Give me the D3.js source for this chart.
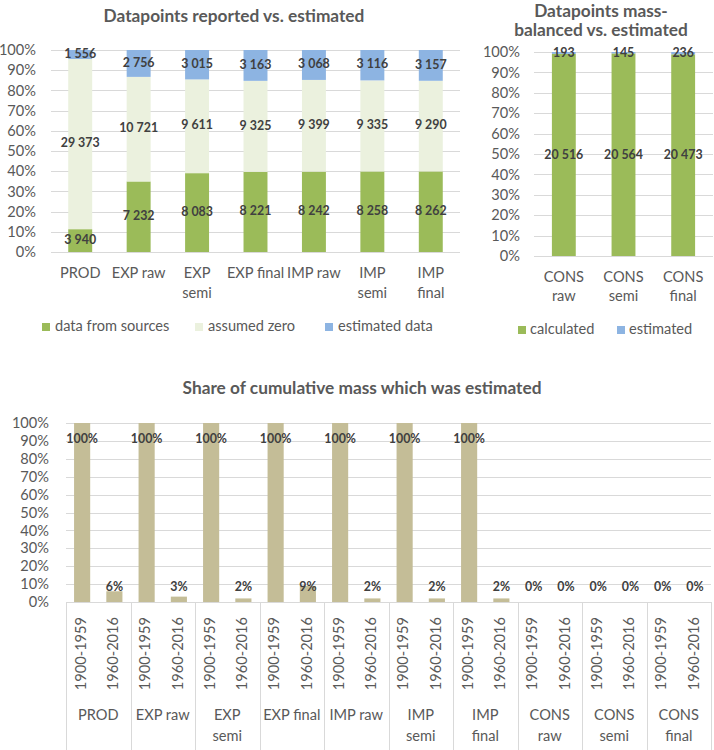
<!DOCTYPE html>
<html>
<head>
<meta charset="utf-8">
<script src="https://cdn.jsdelivr.net/npm/d3@7"></script>
<style>
  html, body { margin: 0; padding: 0; background: #ffffff; }
  svg { display: block; font-family: Lato, "Open Sans", sans-serif; }
</style>
</head>
<body>
<svg id="chart" width="714" height="750"></svg>
<script>
// ---------- DATA ----------
const categoriesTop = ["PROD", "EXP raw", "EXP semi", "EXP final", "IMP raw", "IMP semi", "IMP final"];
const wrapTop = ["EXP semi", "IMP semi", "IMP final"];
const dataFromSources = [3940, 7232, 8083, 8221, 8242, 8258, 8262];
const assumedZero = [29373, 10721, 9611, 9325, 9399, 9335, 9290];
const estimatedData = [1556, 2756, 3015, 3163, 3068, 3116, 3157];
const seriesTop = ["data from sources", "assumed zero", "estimated data"];

const categoriesCons = ["CONS raw", "CONS semi", "CONS final"];
const calculated = [20516, 20564, 20473];
const estimatedCons = [193, 145, 236];
const seriesCons = ["calculated", "estimated"];

const groupsBottom = ["PROD", "EXP raw", "EXP semi", "EXP final", "IMP raw", "IMP semi", "IMP final", "CONS raw", "CONS semi", "CONS final"];
const wrapBottom = ["EXP semi", "IMP semi", "IMP final", "CONS raw", "CONS semi", "CONS final"];
const periods = ["1900-1959", "1960-2016"];
const share1900_1959 = [1.00, 1.00, 1.00, 1.00, 1.00, 1.00, 1.00, 0.00, 0.00, 0.00];
const share1960_2016 = [0.06, 0.03, 0.02, 0.09, 0.02, 0.02, 0.02, 0.00, 0.00, 0.00];

const pctTicks = [0, 0.1, 0.2, 0.3, 0.4, 0.5, 0.6, 0.7, 0.8, 0.9, 1.0];

// ---------- STYLE ----------
const C_GREEN = "#9BBB59", C_LIGHT = "#EBF1DE", C_BLUE = "#8DB4E2", C_TAN = "#C4BD97";
const C_GRID = "#D9D9D9", C_TEXT = "#595959", C_LABEL = "#404040";
const FS_TICK = 14.6, FS_LABEL = 12.4, FS_TITLE = 17.3;

const svg = d3.select("#chart");
const loc = d3.formatLocale({ decimal: ".", thousands: " ", grouping: [3], currency: ["", ""] });
const fmtNum = loc.format(",d");
const fmtPct = d3.format(".0%");

function yAxis(g, y, x0) {
  const ax = d3.axisLeft(y).tickValues(pctTicks).tickFormat(fmtPct).tickSize(0).tickPadding(0);
  g.attr("transform", `translate(${x0},0)`).call(ax);
  g.select(".domain").remove();
  g.selectAll("text").attr("fill", C_TEXT).style("font-size", FS_TICK + "px").style("font-family", "Lato, sans-serif");
}
function grid(g, y, x1, x2) {
  g.selectAll("line").data(pctTicks).join("line")
    .attr("x1", x1).attr("x2", x2)
    .attr("y1", d => Math.round(y(d)) + 0.5).attr("y2", d => Math.round(y(d)) + 0.5)
    .attr("stroke", C_GRID).attr("stroke-width", 1);
}
function multiLine(sel, lines, x, y0, lh) {
  lines.forEach((t, i) => {
    sel.append("text").attr("x", x).attr("y", y0 + i * lh)
      .attr("text-anchor", "middle").attr("dominant-baseline", "middle")
      .attr("fill", C_TEXT).style("font-size", FS_TICK + "px").text(t);
  });
}

// ---------- CHART 1: Datapoints reported vs. estimated ----------
{
  const g = svg.append("g");
  const y = d3.scaleLinear().domain([0, 1]).range([252, 50]);
  const x = d3.scaleBand().domain(categoriesTop).range([51, 460]).paddingInner(0.59).paddingOuter(0.295);
  g.append("text").attr("x", 234).attr("y", 18).attr("text-anchor", "middle").attr("dominant-baseline", "middle")
    .attr("fill", C_TEXT).style("font-size", FS_TITLE + "px").style("font-weight", "bold")
    .text("Datapoints reported vs. estimated");
  grid(g.append("g"), y, 51, 460);
  yAxis(g.append("g"), y, 36);

  const rows = categoriesTop.map((c, i) => ({ cat: c, "data from sources": dataFromSources[i], "assumed zero": assumedZero[i], "estimated data": estimatedData[i] }));
  const stack = d3.stack().keys(seriesTop).offset(d3.stackOffsetExpand);
  const layers = stack(rows);
  const color = d3.scaleOrdinal().domain(seriesTop).range([C_GREEN, C_LIGHT, C_BLUE]);
  layers.forEach(layer => {
    g.append("g").selectAll("rect").data(layer).join("rect")
      .attr("x", d => x(d.data.cat)).attr("width", x.bandwidth())
      .attr("y", d => y(d[1])).attr("height", d => y(d[0]) - y(d[1]))
      .attr("fill", color(layer.key));
  });
  layers.forEach(layer => {
    g.append("g").selectAll("text").data(layer).join("text")
      .attr("x", d => x(d.data.cat) + x.bandwidth() / 2)
      .attr("y", d => y((d[0] + d[1]) / 2))
      .attr("text-anchor", "middle").attr("dominant-baseline", "middle")
      .attr("fill", C_LABEL).style("font-size", FS_LABEL + "px").style("font-weight", "bold")
      .text(d => fmtNum(d.data[layer.key]));
  });
  categoriesTop.forEach(c => {
    const lines = wrapTop.includes(c) ? c.split(" ") : [c];
    multiLine(g, lines, x(c) + x.bandwidth() / 2, 274, 20);
  });
  // legend
  const legX = [42, 195, 325];
  seriesTop.forEach((s, i) => {
    g.append("rect").attr("x", legX[i]).attr("y", 323).attr("width", 8).attr("height", 8).attr("fill", color(s));
    g.append("text").attr("x", legX[i] + 13).attr("y", 327).attr("dominant-baseline", "middle")
      .attr("fill", C_TEXT).style("font-size", FS_TICK + "px").text(s);
  });
}

// ---------- CHART 2: Datapoints mass-balanced vs. estimated ----------
{
  const g = svg.append("g");
  const y = d3.scaleLinear().domain([0, 1]).range([256, 52]);
  const x = d3.scaleBand().domain(categoriesCons).range([534, 713]).paddingInner(0.6).paddingOuter(0.3);
  ["Datapoints mass-", "balanced vs. estimated"].forEach((t, i) => {
    g.append("text").attr("x", 601).attr("y", 13 + i * 19).attr("text-anchor", "middle").attr("dominant-baseline", "middle")
      .attr("fill", C_TEXT).style("font-size", FS_TITLE + "px").style("font-weight", "bold").text(t);
  });
  grid(g.append("g"), y, 534, 713);
  yAxis(g.append("g"), y, 520);
  const rows = categoriesCons.map((c, i) => ({ cat: c, calculated: calculated[i], estimated: estimatedCons[i] }));
  const layers = d3.stack().keys(seriesCons).offset(d3.stackOffsetExpand)(rows);
  const color = d3.scaleOrdinal().domain(seriesCons).range([C_GREEN, C_BLUE]);
  layers.forEach(layer => {
    g.append("g").selectAll("rect").data(layer).join("rect")
      .attr("x", d => x(d.data.cat)).attr("width", x.bandwidth())
      .attr("y", d => y(d[1])).attr("height", d => y(d[0]) - y(d[1]))
      .attr("fill", color(layer.key));
  });
  layers.forEach(layer => {
    g.append("g").selectAll("text").data(layer).join("text")
      .attr("x", d => x(d.data.cat) + x.bandwidth() / 2)
      .attr("y", d => y((d[0] + d[1]) / 2) + 1)
      .attr("text-anchor", "middle").attr("dominant-baseline", "middle")
      .attr("fill", C_LABEL).style("font-size", FS_LABEL + "px").style("font-weight", "bold")
      .text(d => fmtNum(d.data[layer.key]));
  });
  categoriesCons.forEach(c => {
    multiLine(g, c.split(" "), x(c) + x.bandwidth() / 2, 278, 19);
  });
  const legX = [518, 617];
  seriesCons.forEach((s, i) => {
    g.append("rect").attr("x", legX[i]).attr("y", 326).attr("width", 8).attr("height", 8).attr("fill", color(s));
    g.append("text").attr("x", legX[i] + 12).attr("y", 330).attr("dominant-baseline", "middle")
      .attr("fill", C_TEXT).style("font-size", FS_TICK + "px").text(s);
  });
}

// ---------- CHART 3: Share of cumulative mass which was estimated ----------
{
  const g = svg.append("g");
  const y = d3.scaleLinear().domain([0, 1]).range([602, 423]);
  const x0 = d3.scaleBand().domain(groupsBottom).range([66, 711]).padding(0);
  const x1 = d3.scaleBand().domain(periods).range([0, x0.bandwidth()]).paddingInner(0.5).paddingOuter(0.25);
  g.append("text").attr("x", 362).attr("y", 390).attr("text-anchor", "middle").attr("dominant-baseline", "middle")
    .attr("fill", C_TEXT).style("font-size", FS_TITLE + "px").style("font-weight", "bold")
    .text("Share of cumulative mass which was estimated");
  grid(g.append("g"), y, 66, 711);
  yAxis(g.append("g"), y, 49);

  const rows = groupsBottom.map((c, i) => ({ group: c, values: [share1900_1959[i], share1960_2016[i]] }));
  const cells = rows.flatMap(r => periods.map((p, j) => ({ group: r.group, period: p, v: r.values[j] })));
  g.append("g").selectAll("rect").data(cells).join("rect")
    .attr("x", d => x0(d.group) + x1(d.period)).attr("width", x1.bandwidth())
    .attr("y", d => y(d.v)).attr("height", d => y(0) - y(d.v))
    .attr("fill", C_TAN);
  g.append("g").selectAll("text").data(cells).join("text")
    .attr("x", d => x0(d.group) + x1(d.period) + x1.bandwidth() / 2)
    .attr("y", d => Math.min(y(d.v) + 17, y(0) - 14))
    .attr("text-anchor", "middle").attr("dominant-baseline", "middle")
    .attr("fill", C_LABEL).style("font-size", FS_LABEL + "px").style("font-weight", "bold")
    .text(d => fmtPct(d.v));

  // category axis separators
  const bounds = groupsBottom.map(c => x0(c)).concat([x0.range()[1]]);
  g.append("g").selectAll("line").data(bounds).join("line")
    .attr("x1", d => Math.round(d) + 0.5).attr("x2", d => Math.round(d) + 0.5)
    .attr("y1", y(0)).attr("y2", 750)
    .attr("stroke", C_GRID).attr("stroke-width", 1);
  // period labels (rotated)
  g.append("g").selectAll("text").data(cells).join("text")
    .attr("transform", d => `translate(${x0(d.group) + x1(d.period) + x1.bandwidth() / 2},617) rotate(-90)`)
    .attr("text-anchor", "end").attr("dominant-baseline", "middle")
    .attr("fill", C_TEXT).style("font-size", FS_TICK + "px")
    .text(d => d.period);
  groupsBottom.forEach(c => {
    const lines = wrapBottom.includes(c) ? c.split(" ") : [c];
    multiLine(g, lines, x0(c) + x0.bandwidth() / 2, 716, 21);
  });
}
</script>
</body>
</html>
